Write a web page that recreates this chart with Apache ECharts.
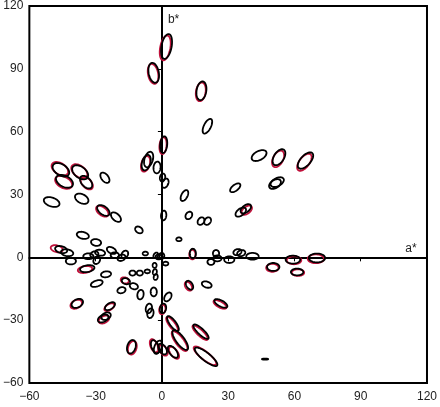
<!DOCTYPE html>
<html>
<head>
<meta charset="utf-8">
<script src="https://cdn.jsdelivr.net/npm/echarts@6/dist/echarts.min.js"></script>
<style>
  html, body { margin: 0; padding: 0; background: #fff; }
  #chart { width: 440px; height: 407px; }
</style>
</head>
<body>
<div id="chart"></div>
<script>
// axis range and ticks
const aTicks = [-60, -30, 0, 30, 60, 90, 120];
const bTicks = [-60, -30, 0, 30, 60, 90, 120];

// ellipses: [a*, b*, semi-major, semi-minor, angle deg]
const blackEllipses = [
  [2.1, 100.7, 6.0, 2.3, 80], [-3.7, 88.1, 4.8, 2.3, 100], [17.9, 79.5, 4.5, 2.2, 82],
  [20.6, 62.6, 3.8, 1.6, 65], [0.8, 53.8, 4.0, 1.6, 85], [-7.1, 45.2, 3.8, 1.9, 75],
  [-6.0, 46.7, 3.8, 1.9, 75], [-2.2, 42.9, 2.8, 1.6, 85], [0.3, 38.1, 1.9, 1.2, 80],
  [1.5, 35.4, 2.3, 1.4, 70],
  [-45.7, 41.8, 4.2, 2.6, -35], [-44.1, 36.3, 4.2, 2.6, -30], [-37.0, 40.6, 4.2, 2.6, -40],
  [-34.3, 35.9, 3.5, 2.1, -50], [-25.8, 38.0, 2.8, 1.6, -55], [-49.9, 26.4, 3.7, 2.1, -20],
  [-36.3, 28.0, 3.3, 2.1, -30], [-26.5, 22.4, 3.3, 1.9, -40], [-20.8, 19.2, 2.8, 1.6, -45],
  [-10.4, 13.1, 1.9, 1.4, -40], [-35.8, 10.5, 2.8, 1.6, -15], [-29.8, 7.1, 2.3, 1.6, -10],
  [-45.6, 3.7, 2.8, 1.6, -15], [-42.9, 2.2, 2.8, 1.6, -10], [-41.2, -1.8, 2.3, 1.6, 0],
  [-33.3, 0.5, 2.3, 1.4, 0], [-30.6, 1.4, 1.9, 1.4, 20], [-29.5, -1.4, 1.9, 1.4, 60],
  [-28.0, 2.2, 2.3, 1.4, -10], [-22.8, 3.3, 2.3, 1.4, -30], [-21.3, 1.0, 1.9, 1.4, 0],
  [-18.3, -0.2, 1.9, 1.4, 30], [-16.8, 1.4, 1.9, 1.4, 60], [-7.5, 1.8, 1.2, 0.9, 0],
  [-2.8, 1.0, 1.4, 0.9, 60], [-1.5, 0.2, 1.4, 1.2, 0], [-0.1, 0.7, 1.4, 1.2, 90],
  [-33.8, -5.4, 3.3, 1.6, 10], [-25.3, -8.1, 2.3, 1.4, 10], [-29.5, -12.5, 2.8, 1.4, 20],
  [-38.3, -22.0, 2.8, 1.9, 30], [-23.5, -23.3, 2.6, 1.4, 35], [-26.6, -29.2, 2.6, 1.6, 30],
  [-25.3, -28.1, 2.3, 1.6, 30], [-13.3, -7.5, 1.4, 1.2, 0], [-10.0, -7.5, 1.4, 1.2, 0],
  [-6.6, -6.7, 1.2, 0.9, 0], [-16.3, -11.4, 1.9, 1.4, -20], [-12.7, -13.8, 1.9, 1.4, -20],
  [-18.3, -15.7, 1.9, 1.4, 20], [-9.7, -17.8, 2.3, 1.4, 80], [-3.7, -16.5, 2.1, 1.4, 90],
  [-3.3, -3.8, 1.2, 0.9, 90], [-3.2, -7.0, 1.4, 0.9, 80], [-2.8, -9.4, 1.4, 0.9, 80],
  [-5.9, -24.4, 2.3, 1.4, 80], [-5.2, -26.7, 2.3, 1.4, 80], [0.5, -24.4, 2.3, 1.4, 80],
  [1.7, -3.0, 1.2, 0.9, 0], [2.7, -18.9, 2.3, 1.4, 60], [5.0, -31.6, 4.2, 1.4, -55],
  [-13.8, -42.7, 3.3, 1.9, 75], [-3.1, -42.7, 3.3, 1.6, -70], [-1.8, -42.9, 3.3, 1.6, 70],
  [0.3, -43.8, 2.8, 1.6, -60], [8.3, -39.5, 5.6, 1.9, -55], [5.0, -45.1, 3.3, 1.6, -55],
  [17.7, -35.5, 4.7, 1.4, -45], [20.0, -47.5, 6.5, 1.9, -40], [12.5, -13.3, 2.3, 1.4, -60],
  [20.3, -13.0, 2.3, 1.4, -20], [26.7, -22.0, 3.3, 1.4, -30], [46.7, -48.6, 1.4, 0.25, 0],
  [44.0, 48.6, 3.7, 2.1, 30], [53.0, 47.8, 4.2, 2.3, 60], [65.0, 46.2, 4.7, 2.3, 50],
  [52.2, 35.9, 3.3, 1.9, 30], [51.2, 35.0, 3.0, 1.9, 35], [33.2, 33.2, 2.8, 1.4, 40],
  [10.2, 29.5, 2.8, 1.4, 65], [35.7, 21.6, 2.8, 1.6, 40], [38.0, 23.2, 2.8, 1.6, 40],
  [12.2, 20.0, 1.9, 1.4, 60], [17.7, 17.3, 1.9, 1.4, 60], [20.7, 17.3, 1.9, 1.4, 60],
  [7.7, 8.6, 1.2, 0.9, 0], [0.8, 20.0, 2.3, 1.2, 85], [14.0, 1.8, 2.3, 1.4, 90],
  [22.2, -2.2, 1.6, 1.4, 0], [24.5, 1.9, 1.6, 1.4, 90], [25.1, -0.5, 1.9, 1.4, 0],
  [30.5, -1.1, 2.3, 1.6, 0], [34.2, 2.5, 1.9, 1.4, 20], [35.9, 2.0, 1.9, 1.4, 20],
  [41.0, 0.5, 2.8, 1.6, 0], [50.4, -4.6, 2.8, 1.9, 0], [59.3, -1.1, 3.3, 1.9, 0],
  [61.2, -7.0, 2.8, 1.6, 0], [70.2, -0.3, 3.7, 2.1, 0]
];

const redEllipses = [
  [1.5, 100.0, 6.0, 2.3, 80], [-4.0, 87.6, 4.8, 2.3, 100], [17.6, 79.0, 4.5, 2.2, 82],
  [0.5, 53.3, 4.0, 1.6, 85], [-7.4, 44.6, 3.8, 1.9, 75], [-46.2, 42.3, 4.2, 2.6, -35],
  [-44.5, 35.8, 4.2, 2.6, -30], [-37.4, 41.1, 4.2, 2.6, -40], [-34.0, 35.4, 3.5, 2.1, -50],
  [-27.0, 22.0, 3.3, 1.9, -40], [-47.6, 4.1, 2.8, 1.6, -15], [-34.8, -5.8, 3.3, 1.6, 10],
  [-38.8, -22.4, 2.8, 1.9, 30], [-23.8, -23.8, 2.6, 1.4, 35], [-26.2, -29.7, 2.6, 1.6, 30],
  [-16.8, -11.0, 1.9, 1.4, -20], [-13.4, -43.2, 3.3, 1.9, 75], [-3.6, -42.2, 3.3, 1.6, -70],
  [0.7, -44.4, 2.8, 1.6, -60], [5.5, -45.6, 3.3, 1.6, -55], [19.5, -47.0, 6.5, 1.9, -40],
  [12.0, -13.8, 2.3, 1.4, -60], [52.6, 47.0, 4.2, 2.3, 65], [64.5, 45.4, 4.7, 2.3, 55],
  [13.8, 1.3, 2.3, 1.4, 90], [50.0, -5.0, 2.8, 1.9, 0], [59.8, -1.4, 3.3, 1.9, 0],
  [61.6, -7.3, 2.8, 1.6, 0], [69.7, -0.7, 3.7, 2.1, 0], [38.4, 22.5, 2.8, 1.6, 40],
  [0.2, -24.9, 2.3, 1.4, 80], [4.6, -32.0, 4.2, 1.4, -55], [8.0, -40.0, 5.6, 1.9, -55],
  [17.3, -36.0, 4.7, 1.4, -45], [26.3, -22.5, 3.3, 1.4, -30]
];

const chart = echarts.init(document.getElementById('chart'));

function makeRender(color) {
  return function (params, api) {
    const a = api.value(0), b = api.value(1);
    const r1 = api.value(2), r2 = api.value(3);
    const t = api.value(4) * Math.PI / 180;
    const pts = [];
    for (let k = 0; k < 48; k++) {
      const s = 2 * Math.PI * k / 48;
      const u = r1 * Math.cos(s), v = r2 * Math.sin(s);
      pts.push(api.coord([a + u * Math.cos(t) - v * Math.sin(t), b + u * Math.sin(t) + v * Math.cos(t)]));
    }
    return { type: 'polygon', shape: { points: pts }, style: { fill: 'none', stroke: color, lineWidth: 1.8 } };
  };
}

const minus = v => String(v).replace('-', '\u2212');
const labelStyle = { color: '#222', fontSize: 12, fontFamily: 'Liberation Sans, Arial, sans-serif' };

const option = {
  backgroundColor: '#fff',
  animation: false,
  grid: { left: 29, top: 5, width: 400, height: 378, show: true, borderColor: '#000', borderWidth: 2, containLabel: false },
  xAxis: [{
    type: 'value', min: aTicks[0], max: aTicks[aTicks.length - 1], interval: 30,
    position: 'bottom',
    axisLine: { show: false, onZero: false },
    axisTick: { show: false },
    splitLine: { show: false },
    axisLabel: Object.assign({ margin: 8, formatter: minus }, labelStyle)
  }, {
    type: 'value', min: aTicks[0], max: aTicks[aTicks.length - 1], interval: 30,
    position: 'bottom',
    axisLine: { show: true, onZero: true, onZeroAxisIndex: 1, lineStyle: { color: '#000', width: 2 } },
    axisTick: { show: true, length: 4, lineStyle: { color: '#000', width: 1 } },
    axisLabel: { show: false },
    splitLine: { show: false },
    name: 'a*', nameLocation: 'end', nameGap: -16,
    nameTextStyle: Object.assign({}, labelStyle, { align: 'center', verticalAlign: 'bottom', padding: [0, 0, 3, 0] })
  }],
  yAxis: [{
    type: 'value', min: bTicks[0], max: bTicks[bTicks.length - 1], interval: 30,
    position: 'left',
    axisLine: { show: false, onZero: false },
    axisTick: { show: false },
    splitLine: { show: false },
    axisLabel: Object.assign({ margin: 6, formatter: minus }, labelStyle)
  }, {
    type: 'value', min: bTicks[0], max: bTicks[bTicks.length - 1], interval: 30,
    position: 'left',
    axisLine: { show: true, onZero: true, onZeroAxisIndex: 1, lineStyle: { color: '#000', width: 2 } },
    axisTick: { show: true, length: 4, lineStyle: { color: '#000', width: 1 } },
    axisLabel: { show: false },
    splitLine: { show: false },
    name: 'b*', nameLocation: 'end', nameGap: -14,
    nameTextStyle: Object.assign({}, labelStyle, { align: 'left', verticalAlign: 'middle', padding: [0, 0, 0, 6] })
  }],
  series: [{
    type: 'custom',
    renderItem: makeRender('#c0103a'),
    data: redEllipses,
    encode: { x: 0, y: 1 },
    silent: true,
    z: 2
  }, {
    type: 'custom',
    renderItem: makeRender('#000'),
    data: blackEllipses,
    encode: { x: 0, y: 1 },
    silent: true,
    z: 3
  }]
};

chart.setOption(option);
</script>
</body>
</html>
